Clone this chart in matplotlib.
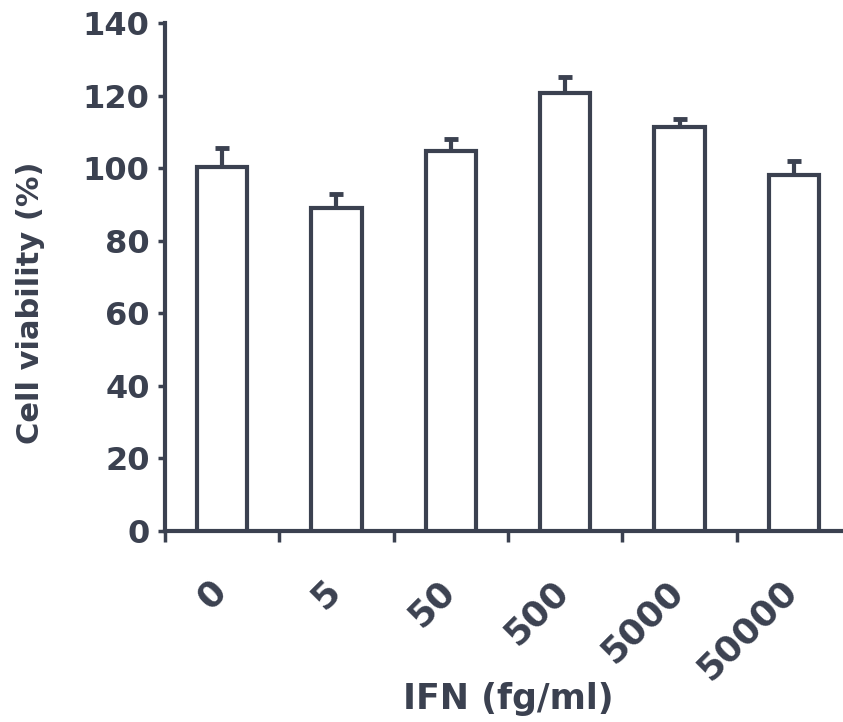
import numpy as np
import matplotlib.pyplot as plt
from matplotlib.transforms import ScaledTranslation

# data
doses = ['0', '5', '50', '500', '5000', '50000']
viability = [100.3, 89.0, 104.7, 120.7, 111.3, 98.0]
sem = [5.2, 4.0, 3.3, 4.4, 2.2, 4.1]

ink = '#3b4150'
plt.rcParams['font.family'] = ['DejaVu Sans']
plt.rcParams['font.weight'] = 'bold'

fig = plt.figure(figsize=(8.43, 7.22), dpi=100)
ax = fig.add_axes([0.1957, 0.2645, 0.8138, 0.7036])

x = np.arange(len(doses))
ax.bar(x, viability, width=0.44, color='white', edgecolor=ink, linewidth=3, zorder=3)
ax.errorbar(x, viability, yerr=[np.zeros(len(sem)), sem], fmt='none',
            ecolor=ink, elinewidth=3, capsize=5, capthick=3.5, zorder=2)

ax.set_xlim(-0.5, 5.5)
ax.set_ylim(0, 140)
ax.set_yticks(np.arange(0, 141, 20))
ax.set_xticks(x)
ax.set_xticklabels(doses, rotation=45, ha='right', va='top')
ax.set_xticks(np.arange(-0.5, 5.6, 1), minor=True)

for s in ['top', 'right']:
    ax.spines[s].set_visible(False)
for s in ['left', 'bottom']:
    ax.spines[s].set_linewidth(3)
    ax.spines[s].set_color(ink)

ax.tick_params(axis='y', length=5, width=2.5, color=ink, labelcolor=ink,
               labelsize=23, pad=6)
ax.tick_params(axis='x', which='major', length=0, labelcolor=ink,
               labelsize=26, pad=31)
ax.tick_params(axis='x', which='minor', length=8, width=2.5, color=ink)
shift = ScaledTranslation(10 / 100, 0, fig.dpi_scale_trans)
for lab in ax.get_xticklabels():
    lab.set_transform(lab.get_transform() + shift)

ax.set_ylabel('Cell viability (%)', fontsize=22, fontweight='bold', color=ink)
ax.set_xlabel('IFN (fg/ml)', fontsize=25, fontweight='bold', color=ink)
ax.yaxis.set_label_coords(-0.175, 0.449)
ax.xaxis.set_label_coords(0.5, -0.297)

fig.savefig('out.png', dpi=100)
